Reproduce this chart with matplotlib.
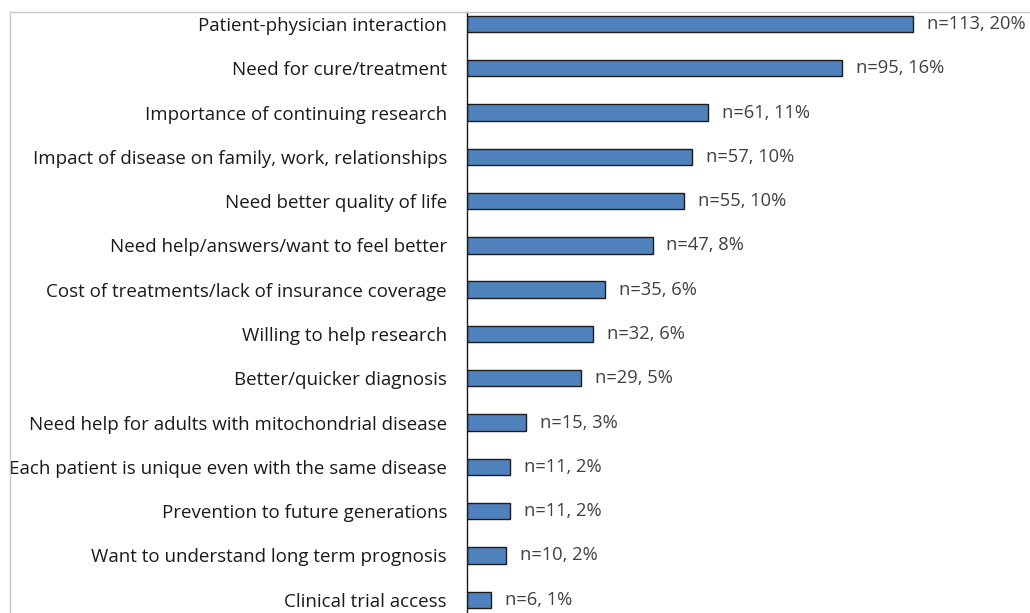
import numpy as np
import matplotlib
matplotlib.use("Agg")
import matplotlib.pyplot as plt
from matplotlib.lines import Line2D

# reasons, top to bottom
categories = [
    "Patient-physician interaction",
    "Need for cure/treatment",
    "Importance of continuing research",
    "Impact of disease on family, work, relationships",
    "Need better quality of life",
    "Need help/answers/want to feel better",
    "Cost of treatments/lack of insurance coverage",
    "Willing to help research",
    "Better/quicker diagnosis",
    "Need help for adults with mitochondrial disease",
    "Each patient is unique even with the same disease",
    "Prevention to future generations",
    "Want to understand long term prognosis",
    "Clinical trial access",
]
counts = [113, 95, 61, 57, 55, 47, 35, 32, 29, 15, 11, 11, 10, 6]
percents = [20, 16, 11, 10, 10, 8, 6, 6, 5, 3, 2, 2, 2, 1]

plt.rcParams['font.family'] = ['Open Sans', 'DejaVu Sans']

W, H = 1030, 613
fig = plt.figure(figsize=(W / 100, H / 100), dpi=100)

# axes placed in pixel terms: y-axis line at x=467, top at y=12
ax = fig.add_axes([467 / W, 0, 1 - 467 / W, 1 - 12 / H])

y = np.arange(len(categories))
ax.barh(y, counts, height=0.37, color='#4f81bd', edgecolor='#1c1c1c', linewidth=1.0)

for yi, c, p in zip(y, counts, percents):
    ax.annotate(f"n={c}, {p}%", xy=(c, yi), xytext=(10, 0), textcoords='offset points',
                va='center', ha='left', fontsize=13.2, color='#404040')

ax.set_yticks(y)
ax.set_yticklabels(categories, fontsize=13.5, color='#1a1a1a')
ax.tick_params(axis='y', length=0, pad=14.4)
ax.set_xticks([])
ax.set_xlim(0, (W - 467) / 3.947)
ax.set_ylim(13.3, -0.27)

for s in ['top', 'right', 'bottom']:
    ax.spines[s].set_visible(False)
ax.spines['left'].set_color('#1a1a1a')
ax.spines['left'].set_linewidth(1.0)

# light chart frame (cropped at right and bottom)
fig.add_artist(Line2D([10 / W, 1], [1 - 12 / H, 1 - 12 / H], color='#c8c8c8', lw=1.0,
                      transform=fig.transFigure))
fig.add_artist(Line2D([10 / W, 10 / W], [0, 1 - 12 / H], color='#c8c8c8', lw=1.0,
                      transform=fig.transFigure))

fig.savefig("out.png", dpi=100)
